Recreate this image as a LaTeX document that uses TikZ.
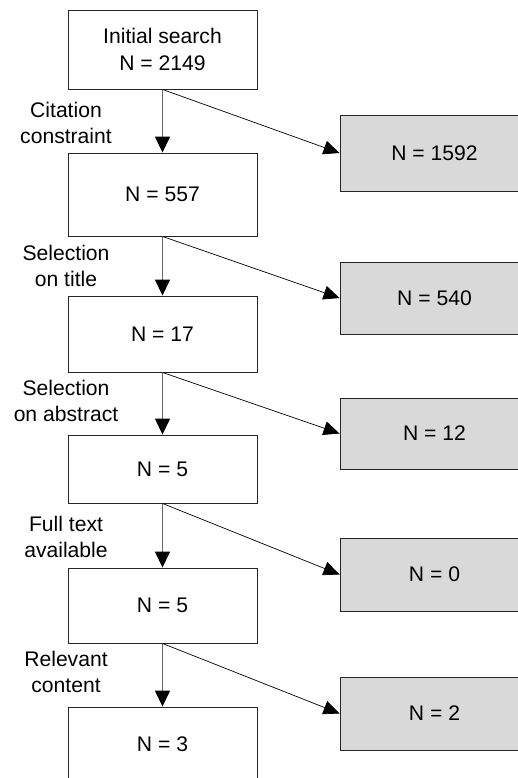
\documentclass[tikz,border=0pt]{standalone}
\usepackage{fontspec}
\setmainfont{Liberation Sans}
\usetikzlibrary{arrows.meta}
\begin{document}
\begin{tikzpicture}[x=1bp,y=-1bp,
  every node/.style={font=\fontsize{21.2}{26.5}\selectfont, inner sep=0pt},
  stagebox/.style={draw=black!85, line width=0.9bp, fill=white, minimum width=189bp, align=center},
  outbox/.style={draw=black!85, line width=0.9bp, fill=black!15, minimum width=189bp, align=center},
  steplabel/.style={align=center},
  flow/.style={draw=black!60, line width=1.5bp, -{Triangle[length=16bp,width=15bp,color=black]}},
  drop/.style={draw=black, line width=0.7bp, -{Triangle[length=16bp,width=14bp,color=black]}}
]
\clip (0,0) rectangle (518,778);
\fill[white] (0,0) rectangle (518,778);

% main chain of records
\node[stagebox, minimum height=79bp] (s1) at (162.5,49.5) {Initial search\\N = 2149};
\node[stagebox, minimum height=83bp] (s2) at (162.5,194.5) {N = 557};
\node[stagebox, minimum height=76bp] (s3) at (162.5,334) {N = 17};
\node[stagebox, minimum height=68bp] (s4) at (162.5,469) {N = 5};
\node[stagebox, minimum height=75bp] (s5) at (162.5,605.5) {N = 5};
\node[stagebox, minimum height=74bp] (s6) at (162.5,744) {N = 3};

% excluded records
\node[outbox, minimum height=76bp] (x1) at (434.5,153) {N = 1592};
\node[outbox, minimum height=72bp] (x2) at (434.5,298) {N = 540};
\node[outbox, minimum height=71bp] (x3) at (434.5,433.5) {N = 12};
\node[outbox, minimum height=73bp] (x4) at (434.5,574.5) {N = 0};
\node[outbox, minimum height=73bp] (x5) at (434.5,713.5) {N = 2};

% criteria
\node[steplabel] (c1) at (66,123) {Citation\\constraint};
\node[steplabel] (c2) at (66,266) {Selection\\on title};
\node[steplabel] (c3) at (66,401) {Selection\\on abstract};
\node[steplabel] (c4) at (66,537) {Full text\\available};
\node[steplabel] (c5) at (66,672) {Relevant\\content};

% connectors
\foreach \a/\b/\x in {s1/s2/x1, s2/s3/x2, s3/s4/x3, s4/s5/x4, s5/s6/x5}{
  \draw[flow] (\a.south) -- (\b.north);
  \draw[drop] (\a.south) -- (\x.west);
}
\end{tikzpicture}
\end{document}
